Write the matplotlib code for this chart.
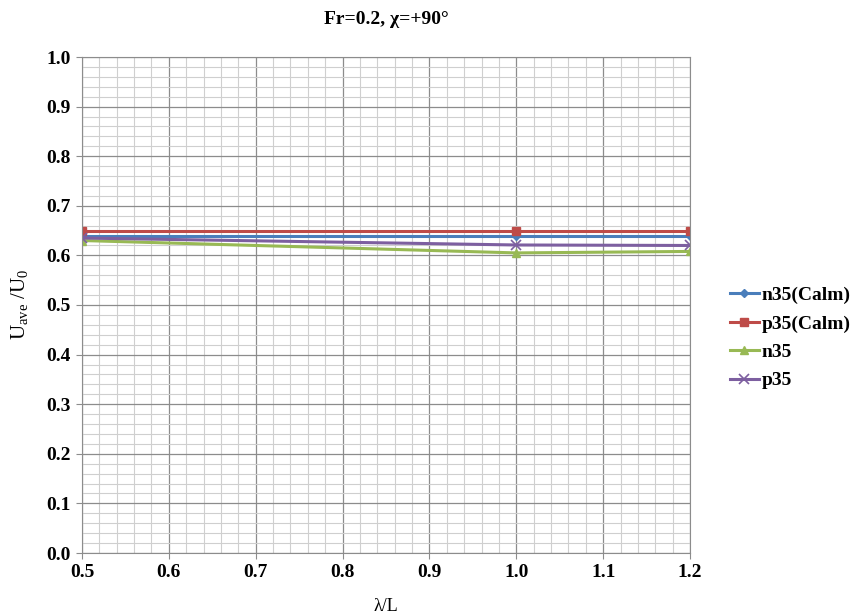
import numpy as np
import matplotlib
matplotlib.use('Agg')
import matplotlib.pyplot as plt
from matplotlib.ticker import MultipleLocator

plt.rcParams['font.family'] = ['Liberation Serif', 'DejaVu Serif']
plt.rcParams['mathtext.fontset'] = 'custom'
plt.rcParams['mathtext.rm'] = 'Liberation Serif'
plt.rcParams['mathtext.it'] = 'Liberation Serif:italic'

# --- Data ---
wave_ratio = [0.5, 1.0, 1.2]
n35_calm = [0.64, 0.64, 0.64]
p35_calm = [0.65, 0.65, 0.65]
n35 = [0.63, 0.605, 0.608]
p35 = [0.635, 0.621, 0.62]

# --- Plot ---
fig = plt.figure(figsize=(8.51, 6.15), dpi=100)
ax = fig.add_axes([82/851, 62/615, 608/851, 496/615])

ax.plot(wave_ratio, n35_calm, color='#4a7ebb', lw=2.2, marker='D', ms=4, label='n35(Calm)')
ax.plot(wave_ratio, p35_calm, color='#be4b48', lw=2.2, marker='s', ms=6, label='p35(Calm)')
ax.plot(wave_ratio, n35, color='#98b954', lw=2.2, marker='^', ms=6, label='n35')
ax.plot(wave_ratio, p35, color='#7d5fa0', lw=2.2, marker='x', ms=7, mew=1.2, label='p35')

ax.set_xlim([0.5, 1.2])
ax.set_ylim([0.0, 1.0])
ax.xaxis.set_major_locator(MultipleLocator(0.1))
ax.xaxis.set_minor_locator(MultipleLocator(0.02))
ax.yaxis.set_major_locator(MultipleLocator(0.1))
ax.yaxis.set_minor_locator(MultipleLocator(0.02))
ax.xaxis.set_major_formatter(matplotlib.ticker.FormatStrFormatter('%.1f'))
ax.yaxis.set_major_formatter(matplotlib.ticker.FormatStrFormatter('%.1f'))

ax.grid(which='major', color='#8c8c8c', lw=0.9)
ax.grid(which='minor', color='#cfcfcf', lw=0.8)
ax.set_axisbelow(True)
for s in ax.spines.values():
    s.set_color('#8c8c8c')
ax.tick_params(which='major', direction='out', length=4, color='#8c8c8c', labelsize=14, pad=4)
ax.tick_params(which='minor', length=0)
for lab in ax.get_xticklabels() + ax.get_yticklabels():
    lab.set_fontweight('bold')

ax.set_title('Fr=0.2, χ=+90°', fontsize=14, fontweight='bold', pad=24)
ax.set_xlabel('λ/L', fontsize=13, labelpad=12)
ax.set_ylabel(r'$\mathrm{U_{ave}}$ /$\mathrm{U_0}$', fontsize=15, labelpad=12)

fig.legend(loc='center left', bbox_to_anchor=(712/851, 1 - 338/615), frameon=False,
           prop={'weight': 'bold', 'size': 14}, handlelength=1.5, handletextpad=0.15,
           labelspacing=0.55)

plt.savefig('out.png', dpi=100)
